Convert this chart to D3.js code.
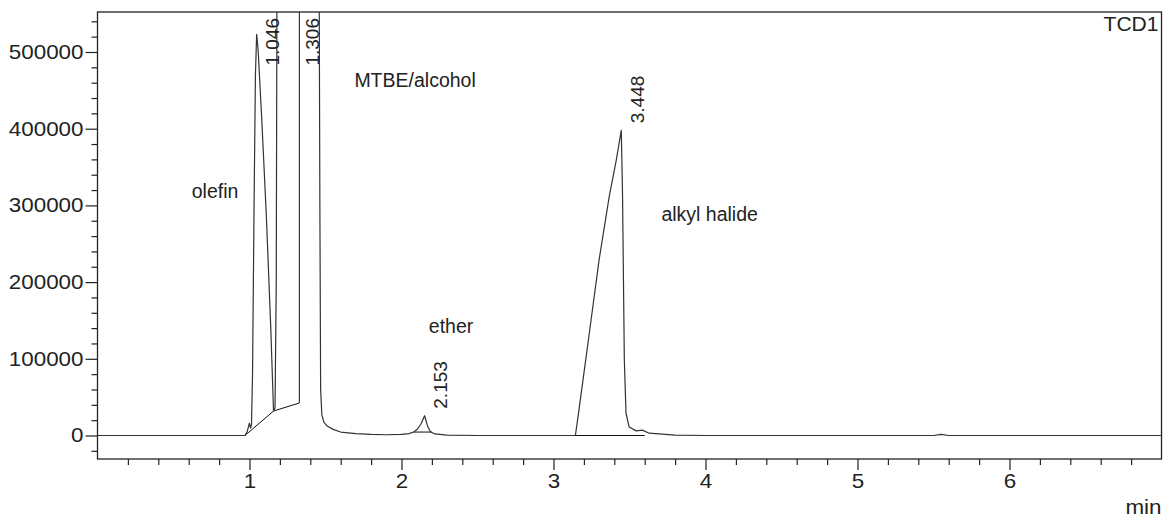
<!DOCTYPE html>
<html>
<head>
<meta charset="utf-8">
<script src="https://cdn.jsdelivr.net/npm/d3@7"></script>
<style>
  html, body { margin: 0; padding: 0; background: #fff; }
  svg { display: block; }
  text { font-family: "Liberation Sans", Arial, sans-serif; fill: #222; }
</style>
</head>
<body>
<svg id="chart" width="1163" height="517"></svg>
<script>
// ---- data ----
const timeMin = [0, 0.5, 0.97, 0.985, 0.999, 1.007, 1.013, 1.02, 1.03, 1.039, 1.047, 1.056, 1.08, 1.11, 1.14, 1.158,
  1.168, 1.176, 1.182, 1.25, 1.33, 1.40, 1.455, 1.463, 1.468, 1.476, 1.49, 1.51, 1.55, 1.6, 1.7, 1.8, 1.9, 2.0,
  2.05, 2.08, 2.106, 2.128, 2.152, 2.172, 2.19, 2.22, 2.3, 2.5, 3.0, 3.144, 3.17, 3.236, 3.30, 3.367, 3.413, 3.446,
  3.454, 3.466, 3.477, 3.498, 3.544, 3.584, 3.63, 3.8, 4.0, 4.5, 5.0, 5.5, 5.55, 5.6, 6.0, 6.5, 7.0];
const signalValue = [0, 0, 0, 5000, 16000, 9800, 14000, 80000, 300000, 470000, 523000, 505000, 415000, 290000, 140000, 32000,
  36000, 200000, 700000, 2000000, 2500000, 2000000, 800000, 300000, 60000, 27000, 17000, 12500, 8000, 4500, 2500, 1500, 1000, 1500,
  2500, 4500, 8500, 15000, 25800, 12000, 5000, 2000, 500, 0, 0, 0, 37000, 134000, 229000, 312000, 359000, 398000,
  316000, 98000, 29000, 11000, 6000, 7000, 3000, 500, 0, 0, 0, 0, 1500, 0, 0, 0, 0];

// integration baselines and drop lines
const baselineSegments = [
  { t: [0.970, 1.158, 1.328], v: [0, 31900, 42400] },
  { t: [2.08, 2.20], v: [4500, 4500] },
  { t: [3.144, 3.60], v: [0, 0] }
];
const dropLines = [ { t: 1.328, v0: 42400, v1: 3000000 } ];

// retention-time labels
const peakTimes = [1.046, 1.306, 2.153, 3.448];
const peakLabels = ["1.046", "1.306", "2.153", "3.448"];
const peakApex = [523000, 3000000, 25800, 398000];

// compound annotations
const compoundNames = ["olefin", "MTBE/alcohol", "ether", "alkyl halide"];
const compoundTime = [0.62, 1.69, 2.18, 3.71];
const compoundValue = [309000, 455000, 134000, 280000];

const xMajorTicks = [1, 2, 3, 4, 5, 6];
const yMajorTicks = [0, 100000, 200000, 300000, 400000, 500000];
const detectorName = "TCD1";
const xUnit = "min";

// ---- layout ----
const L = 97.5, R = 1161.5, T = 12, B = 459;
const svg = d3.select("#chart");
const x = d3.scaleLinear().domain([0, 7]).range([L, R]);
const y = d3.scaleLinear().domain([0, 500000]).range([435.5, 52]);
const FS = 19.5;      // annotation font
const TFS = 20;       // tick label font
const SX = 1.12;      // tick-label horizontal stretch

svg.append("defs").append("clipPath").attr("id", "plot")
  .append("rect").attr("x", L).attr("y", T).attr("width", R - L).attr("height", B - T);

// axes
const xMinor = d3.range(1, 35).map(i => i * 0.2).filter(t => Math.abs(t - Math.round(t)) > 1e-6);
const yMinor = d3.range(-1, 28).map(i => i * 20000).filter(v => v % 100000 !== 0);

const gx = svg.append("g").attr("transform", `translate(0,${B})`);
gx.call(d3.axisBottom(x).tickValues(xMajorTicks).tickSize(11).tickPadding(4).tickFormat(d3.format("d")));
gx.append("g").call(d3.axisBottom(x).tickValues(xMinor).tickSize(6).tickFormat(""));
const gy = svg.append("g").attr("transform", `translate(${L},0)`);
gy.call(d3.axisLeft(y).tickValues(yMajorTicks).tickSize(12).tickPadding(2).tickFormat(d3.format("d")));
gy.append("g").call(d3.axisLeft(y).tickValues(yMinor).tickSize(6).tickFormat(""));
svg.selectAll(".domain").remove();
svg.selectAll(".tick line").attr("stroke", "#222").attr("stroke-width", 1.2);
svg.selectAll(".tick text").attr("font-size", TFS).attr("fill", "#222")
  .attr("font-family", '"Liberation Sans", Arial, sans-serif');
// horizontal stretch of tick labels around their anchor
gx.selectAll(".tick text").attr("transform", `scale(${SX},1)`);
gy.selectAll(".tick text").each(function () {
  const t = d3.select(this);
  const ax = +t.attr("x");
  t.attr("transform", `translate(${ax},0) scale(${SX},1) translate(${-ax},0)`);
});

// frame
svg.append("rect").attr("x", L).attr("y", T).attr("width", R - L).attr("height", B - T)
  .attr("fill", "none").attr("stroke", "#222").attr("stroke-width", 1.3);

const plot = svg.append("g").attr("clip-path", "url(#plot)");

// baselines
const segLine = d3.line().x(d => x(d[0])).y(d => y(d[1]));
baselineSegments.forEach(s => {
  plot.append("path").datum(s.t.map((t, i) => [t, s.v[i]]))
    .attr("d", segLine).attr("fill", "none").attr("stroke", "#111").attr("stroke-width", 1);
});
dropLines.forEach(d => {
  plot.append("line").attr("x1", x(d.t)).attr("x2", x(d.t)).attr("y1", y(d.v0)).attr("y2", y(d.v1))
    .attr("stroke", "#111").attr("stroke-width", 1);
});

// signal
plot.append("path").datum(timeMin.map((t, i) => [t, signalValue[i]]))
  .attr("d", d3.line().x(d => x(d[0])).y(d => y(d[1])))
  .attr("fill", "none").attr("stroke", "#333").attr("stroke-width", 1.2).attr("stroke-linejoin", "round");

// retention time labels (rotated)
peakTimes.forEach((t, i) => {
  const txt = svg.append("text").text(peakLabels[i]).attr("font-size", 19);
  const len = txt.node().getComputedTextLength();
  const bottom = Math.max(y(Math.min(peakApex[i], 560000)) - 7, T + 6 + len);
  const bx = x(t) + 22.5;
  txt.attr("transform", `translate(${bx},${bottom}) rotate(-90)`);
});

// compound annotations
compoundNames.forEach((n, i) => {
  svg.append("text").text(n).attr("x", x(compoundTime[i])).attr("y", y(compoundValue[i]))
    .attr("font-size", FS);
});

svg.append("text").text(detectorName).attr("x", R - 3).attr("y", 31).attr("text-anchor", "end")
  .attr("font-size", FS).attr("transform", `translate(${R - 3},0) scale(1.08,1) translate(${-(R - 3)},0)`);
svg.append("text").text(xUnit).attr("x", R).attr("y", 514).attr("text-anchor", "end")
  .attr("font-size", TFS).attr("transform", `translate(${R},0) scale(${SX},1) translate(${-R},0)`);
</script>
</body>
</html>
